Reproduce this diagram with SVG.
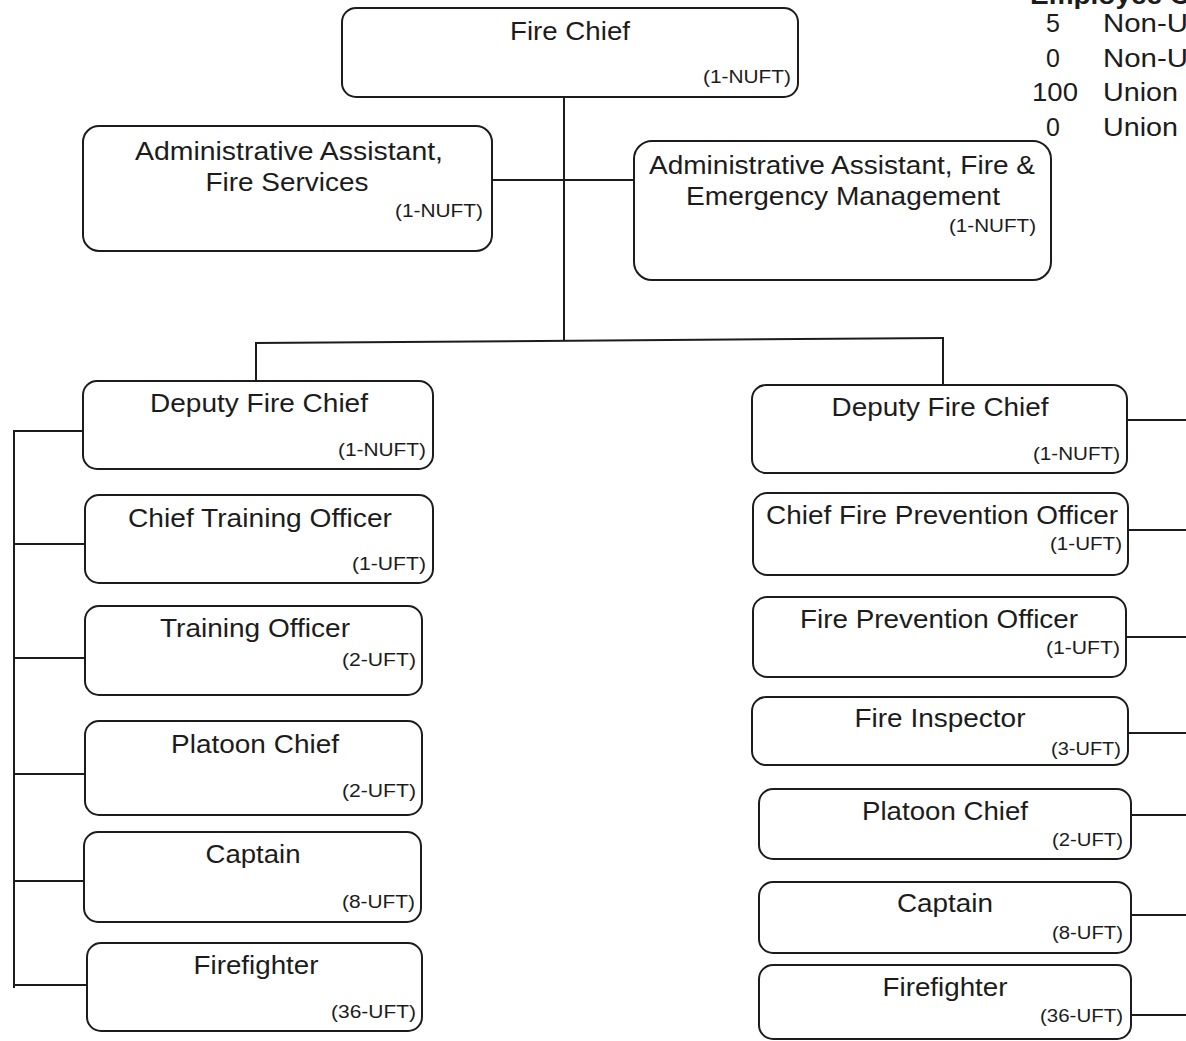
<svg xmlns="http://www.w3.org/2000/svg" width="1186" height="1041" viewBox="0 0 1186 1041">
<style>
.box{fill:#ffffff;stroke:#1c1c1c;stroke-width:2}
.ln{stroke:#1c1c1c;stroke-width:2;fill:none}
text{font-family:"Liberation Sans",Arial,sans-serif;fill:#1c1c1c}
.t{font-size:25px;text-anchor:middle}
.s{font-size:18px;text-anchor:end}
.lg{font-size:25px}
.n{font-size:25px;text-anchor:middle}
</style>
<rect x="0" y="0" width="1186" height="1041" fill="#ffffff"/>
<g id="connectors">
<line class="ln" x1="564" y1="97" x2="564" y2="341"/>
<line class="ln" x1="492" y1="180" x2="634" y2="180"/>
<line class="ln" x1="255" y1="343" x2="944" y2="338"/>
<line class="ln" x1="256" y1="342" x2="256" y2="381"/>
<line class="ln" x1="943" y1="338" x2="943" y2="385"/>
<line class="ln" x1="14" y1="430" x2="14" y2="988"/>
<line class="ln" x1="13" y1="431" x2="83" y2="431"/>
<line class="ln" x1="13" y1="544" x2="85" y2="544"/>
<line class="ln" x1="13" y1="658" x2="85" y2="658"/>
<line class="ln" x1="13" y1="774" x2="85" y2="774"/>
<line class="ln" x1="13" y1="881" x2="84" y2="881"/>
<line class="ln" x1="13" y1="985" x2="87" y2="985"/>
<line class="ln" x1="1127" y1="420" x2="1186" y2="420"/>
<line class="ln" x1="1128" y1="530" x2="1186" y2="530"/>
<line class="ln" x1="1126" y1="637" x2="1186" y2="637"/>
<line class="ln" x1="1128" y1="733" x2="1186" y2="733"/>
<line class="ln" x1="1131" y1="815" x2="1186" y2="815"/>
<line class="ln" x1="1131" y1="915" x2="1186" y2="915"/>
<line class="ln" x1="1131" y1="1015" x2="1186" y2="1015"/>
</g>
<g id="legend">
<text class="lg" x="1030" y="4" font-weight="bold" textLength="160" lengthAdjust="spacingAndGlyphs">Employee C</text>
<text class="n" x="1053" y="32">5</text>
<text class="n" x="1053" y="67">0</text>
<text class="n" x="1055" y="101" textLength="46" lengthAdjust="spacingAndGlyphs">100</text>
<text class="n" x="1053" y="136">0</text>
<text class="lg" x="1103" y="32" textLength="85" lengthAdjust="spacingAndGlyphs">Non-U</text>
<text class="lg" x="1103" y="67" textLength="85" lengthAdjust="spacingAndGlyphs">Non-U</text>
<text class="lg" x="1103" y="101" textLength="75" lengthAdjust="spacingAndGlyphs">Union</text>
<text class="lg" x="1103" y="136" textLength="75" lengthAdjust="spacingAndGlyphs">Union</text>
</g>
<g id="fire-chief">
<rect class="box" x="342" y="8" width="456" height="89" rx="14"/>
<text class="t" x="570" y="40" textLength="120" lengthAdjust="spacingAndGlyphs">Fire Chief</text>
<text class="s" x="791" y="83" textLength="88" lengthAdjust="spacingAndGlyphs">(1-NUFT)</text>
</g>
<g id="admin-fire-services">
<rect class="box" x="83" y="126" width="409" height="125" rx="16"/>
<text class="t" x="289" y="160" textLength="308" lengthAdjust="spacingAndGlyphs">Administrative Assistant,</text>
<text class="t" x="287" y="191" textLength="163" lengthAdjust="spacingAndGlyphs">Fire Services</text>
<text class="s" x="483" y="217" textLength="88" lengthAdjust="spacingAndGlyphs">(1-NUFT)</text>
</g>
<g id="admin-fire-emergency">
<rect class="box" x="634" y="141" width="417" height="139" rx="18"/>
<text class="t" x="842" y="174" textLength="386" lengthAdjust="spacingAndGlyphs">Administrative Assistant, Fire &amp;</text>
<text class="t" x="843" y="205" textLength="314" lengthAdjust="spacingAndGlyphs">Emergency Management</text>
<text class="s" x="1036" y="232" textLength="87" lengthAdjust="spacingAndGlyphs">(1-NUFT)</text>
</g>
<g id="left-deputy">
<rect class="box" x="83" y="381" width="350" height="88" rx="14"/>
<text class="t" x="259" y="412" textLength="218" lengthAdjust="spacingAndGlyphs">Deputy Fire Chief</text>
<text class="s" x="426" y="456" textLength="88" lengthAdjust="spacingAndGlyphs">(1-NUFT)</text>
</g>
<g id="left-chief-training">
<rect class="box" x="85" y="495" width="348" height="88" rx="14"/>
<text class="t" x="260" y="527" textLength="264" lengthAdjust="spacingAndGlyphs">Chief Training Officer</text>
<text class="s" x="426" y="570" textLength="74" lengthAdjust="spacingAndGlyphs">(1-UFT)</text>
</g>
<g id="left-training">
<rect class="box" x="85" y="606" width="337" height="89" rx="14"/>
<text class="t" x="255" y="637" textLength="190" lengthAdjust="spacingAndGlyphs">Training Officer</text>
<text class="s" x="416" y="666" textLength="74" lengthAdjust="spacingAndGlyphs">(2-UFT)</text>
</g>
<g id="left-platoon">
<rect class="box" x="85" y="721" width="337" height="94" rx="14"/>
<text class="t" x="255" y="753" textLength="168" lengthAdjust="spacingAndGlyphs">Platoon Chief</text>
<text class="s" x="416" y="797" textLength="74" lengthAdjust="spacingAndGlyphs">(2-UFT)</text>
</g>
<g id="left-captain">
<rect class="box" x="84" y="832" width="337" height="90" rx="14"/>
<text class="t" x="253" y="863" textLength="95" lengthAdjust="spacingAndGlyphs">Captain</text>
<text class="s" x="415" y="908" textLength="73" lengthAdjust="spacingAndGlyphs">(8-UFT)</text>
</g>
<g id="left-firefighter">
<rect class="box" x="87" y="943" width="335" height="88" rx="14"/>
<text class="t" x="256" y="974" textLength="125" lengthAdjust="spacingAndGlyphs">Firefighter</text>
<text class="s" x="416" y="1018" textLength="85" lengthAdjust="spacingAndGlyphs">(36-UFT)</text>
</g>
<g id="right-deputy">
<rect class="box" x="752" y="385" width="375" height="88" rx="14"/>
<text class="t" x="940" y="416" textLength="217" lengthAdjust="spacingAndGlyphs">Deputy Fire Chief</text>
<text class="s" x="1120" y="460" textLength="87" lengthAdjust="spacingAndGlyphs">(1-NUFT)</text>
</g>
<g id="right-chief-fire-prevention">
<rect class="box" x="753" y="493" width="375" height="82" rx="14"/>
<text class="t" x="942" y="524" textLength="352" lengthAdjust="spacingAndGlyphs">Chief Fire Prevention Officer</text>
<text class="s" x="1122" y="550" textLength="72" lengthAdjust="spacingAndGlyphs">(1-UFT)</text>
</g>
<g id="right-fire-prevention">
<rect class="box" x="753" y="597" width="373" height="80" rx="14"/>
<text class="t" x="939" y="628" textLength="278" lengthAdjust="spacingAndGlyphs">Fire Prevention Officer</text>
<text class="s" x="1120" y="654" textLength="74" lengthAdjust="spacingAndGlyphs">(1-UFT)</text>
</g>
<g id="right-fire-inspector">
<rect class="box" x="752" y="697" width="376" height="68" rx="14"/>
<text class="t" x="940" y="727" textLength="171" lengthAdjust="spacingAndGlyphs">Fire Inspector</text>
<text class="s" x="1121" y="755" textLength="70" lengthAdjust="spacingAndGlyphs">(3-UFT)</text>
</g>
<g id="right-platoon">
<rect class="box" x="759" y="789" width="372" height="70" rx="14"/>
<text class="t" x="945" y="820" textLength="166" lengthAdjust="spacingAndGlyphs">Platoon Chief</text>
<text class="s" x="1123" y="846" textLength="71" lengthAdjust="spacingAndGlyphs">(2-UFT)</text>
</g>
<g id="right-captain">
<rect class="box" x="759" y="882" width="372" height="71" rx="14"/>
<text class="t" x="945" y="912" textLength="96" lengthAdjust="spacingAndGlyphs">Captain</text>
<text class="s" x="1123" y="939" textLength="71" lengthAdjust="spacingAndGlyphs">(8-UFT)</text>
</g>
<g id="right-firefighter">
<rect class="box" x="759" y="965" width="372" height="74" rx="14"/>
<text class="t" x="945" y="996" textLength="125" lengthAdjust="spacingAndGlyphs">Firefighter</text>
<text class="s" x="1123" y="1022" textLength="83" lengthAdjust="spacingAndGlyphs">(36-UFT)</text>
</g>
</svg>
